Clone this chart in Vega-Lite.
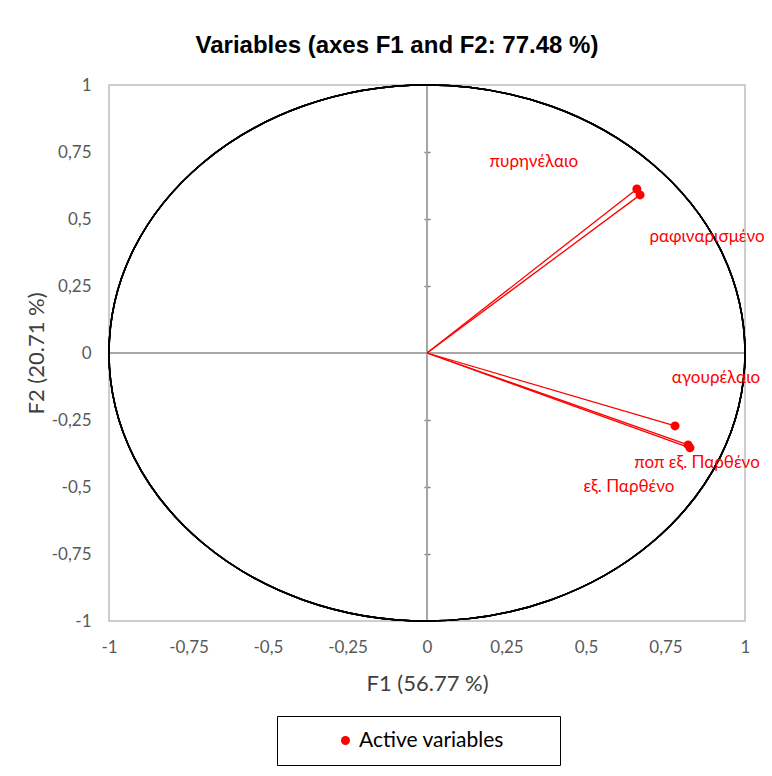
{
  "$schema": "https://vega.github.io/schema/vega-lite/v6.json",
  "width": 636,
  "height": 536,
  "autosize": {"type": "none"},
  "padding": {"left": 109, "top": 85, "right": 27, "bottom": 155},
  "background": "white",
  "title": {
    "text": "Variables (axes F1 and F2: 77.48 %)",
    "font": "Liberation Sans Narrow, Liberation Sans",
    "fontSize": 24,
    "fontWeight": "bold",
    "color": "#000000",
    "anchor": "middle",
    "dx": -30,
    "offset": 18
  },
  "config": {
    "view": {"stroke": "#bfbfbf", "strokeWidth": 1.5},
    "axis": {
      "labelFont": "Lato, Noto Sans",
      "labelFontSize": 17,
      "labelColor": "#595959",
      "titleFont": "Lato, Noto Sans",
      "titleFontSize": 22,
      "titleFontWeight": "normal",
      "titleColor": "#404040",
      "grid": false,
      "domain": false,
      "ticks": false
    }
  },
  "data": {
    "values": [
      {"name": "πυρηνέλαιο", "F1": 0.660, "F2": 0.612},
      {"name": "ραφιναρισμένο", "F1": 0.670, "F2": 0.590},
      {"name": "αγουρέλαιο", "F1": 0.780, "F2": -0.272},
      {"name": "ποπ εξ. Παρθένο", "F1": 0.821, "F2": -0.343},
      {"name": "εξ. Παρθένο", "F1": 0.827, "F2": -0.354}
    ]
  },
  "resolve": {"axis": {"x": "independent", "y": "independent"}},
  "layer": [
    {
      "mark": {"type": "rule", "color": "#a6a6a6", "strokeWidth": 1.5},
      "encoding": {"x": {"datum": 0, "type": "quantitative", "axis": null}}
    },
    {
      "mark": {"type": "rule", "color": "#a6a6a6", "strokeWidth": 1.5},
      "encoding": {"y": {"datum": 0, "type": "quantitative", "axis": null}}
    },
    {
      "mark": {
        "type": "point",
        "shape": "M -1 0 A 1 0.8428 0 1 1 1 0 A 1 0.8428 0 1 1 -1 0 Z",
        "size": 404496,
        "filled": false,
        "stroke": "#000000",
        "strokeWidth": 1.5,
        "opacity": 1
      },
      "encoding": {
        "x": {"datum": 0, "type": "quantitative", "axis": null},
        "y": {
          "datum": 0,
          "type": "quantitative",
          "axis": {
            "orient": "left",
            "offset": -321,
            "labels": false,
            "title": null,
            "ticks": true,
            "tickSize": 6,
            "tickColor": "#7f7f7f",
            "tickWidth": 1.5,
            "domain": false,
            "values": [-0.75, -0.5, -0.25, 0.25, 0.5, 0.75]
          }
        }
      }
    },
    {
      "mark": {"type": "rule", "color": "#ff0000", "strokeWidth": 1.3},
      "encoding": {
        "x": {"field": "F1", "type": "quantitative", "axis": null},
        "y": {"field": "F2", "type": "quantitative", "axis": null},
        "x2": {"datum": 0},
        "y2": {"datum": 0}
      }
    },
    {
      "mark": {"type": "point", "filled": true, "size": 81, "opacity": 1},
      "encoding": {
        "x": {
          "field": "F1",
          "type": "quantitative",
          "scale": {"domain": [-1, 1], "nice": false, "zero": false},
          "axis": {
            "orient": "bottom",
            "title": "F1 (56.77 %)",
            "values": [-1, -0.75, -0.5, -0.25, 0, 0.25, 0.5, 0.75, 1],
            "labelExpr": "replace(toString(datum.value), '.', ',')",
            "labelPadding": 18,
            "labelFlush": false,
            "titleX": 318,
            "titleY": 62,
            "titleBaseline": "middle",
            "titleAlign": "center"
          }
        },
        "y": {
          "field": "F2",
          "type": "quantitative",
          "scale": {"domain": [-1, 1], "nice": false, "zero": false},
          "axis": {
            "orient": "left",
            "title": "F2 (20.71 %)",
            "values": [-1, -0.75, -0.5, -0.25, 0, 0.25, 0.5, 0.75, 1],
            "labelExpr": "replace(toString(datum.value), '.', ',')",
            "labelPadding": 18,
            "labelFlush": false,
            "titleX": -73,
            "titleY": 268,
            "titleAngle": -90,
            "titleBaseline": "middle",
            "titleAlign": "center"
          }
        },
        "color": {
          "datum": "Active variables",
          "type": "nominal",
          "scale": {"range": ["#ff0000"]},
          "legend": {
            "title": null,
            "orient": "none",
            "legendX": 168,
            "legendY": 631,
            "strokeColor": "#000000",
            "padding": 14,
            "symbolType": "circle",
            "symbolSize": 81,
            "symbolOffset": 44,
            "labelOffset": 3,
            "labelFont": "Lato, Noto Sans",
            "labelFontSize": 21,
            "labelColor": "#000000",
            "labelLimit": 400,
            "labelExpr": "datum.label + '\u2003\u2003\u2002\u200b'"
          }
        }
      }
    },
    {
      "transform": [{"filter": "datum.name == 'πυρηνέλαιο'"}],
      "mark": {"type": "text", "color": "#ff0000", "font": "Lato, Noto Sans", "fontSize": 17, "align": "center", "baseline": "middle", "dx": -103, "dy": -27},
      "encoding": {"x": {"field": "F1", "type": "quantitative", "axis": null}, "y": {"field": "F2", "type": "quantitative", "axis": null}, "text": {"field": "name"}}
    },
    {
      "transform": [{"filter": "datum.name == 'ραφιναρισμένο'"}],
      "mark": {"type": "text", "color": "#ff0000", "font": "Lato, Noto Sans", "fontSize": 17, "align": "center", "baseline": "middle", "dx": 67, "dy": 42},
      "encoding": {"x": {"field": "F1", "type": "quantitative", "axis": null}, "y": {"field": "F2", "type": "quantitative", "axis": null}, "text": {"field": "name"}}
    },
    {
      "transform": [{"filter": "datum.name == 'αγουρέλαιο'"}],
      "mark": {"type": "text", "color": "#ff0000", "font": "Lato, Noto Sans", "fontSize": 17, "align": "center", "baseline": "middle", "dx": 41, "dy": -48},
      "encoding": {"x": {"field": "F1", "type": "quantitative", "axis": null}, "y": {"field": "F2", "type": "quantitative", "axis": null}, "text": {"field": "name"}}
    },
    {
      "transform": [{"filter": "datum.name == 'ποπ εξ. Παρθένο'"}],
      "mark": {"type": "text", "color": "#ff0000", "font": "Lato, Noto Sans", "fontSize": 17, "align": "center", "baseline": "middle", "dx": 9, "dy": 18},
      "encoding": {"x": {"field": "F1", "type": "quantitative", "axis": null}, "y": {"field": "F2", "type": "quantitative", "axis": null}, "text": {"field": "name"}}
    },
    {
      "transform": [{"filter": "datum.name == 'εξ. Παρθένο'"}],
      "mark": {"type": "text", "color": "#ff0000", "font": "Lato, Noto Sans", "fontSize": 17, "align": "center", "baseline": "middle", "dx": -61, "dy": 39},
      "encoding": {"x": {"field": "F1", "type": "quantitative", "axis": null}, "y": {"field": "F2", "type": "quantitative", "axis": null}, "text": {"field": "name"}}
    }
  ]
}
